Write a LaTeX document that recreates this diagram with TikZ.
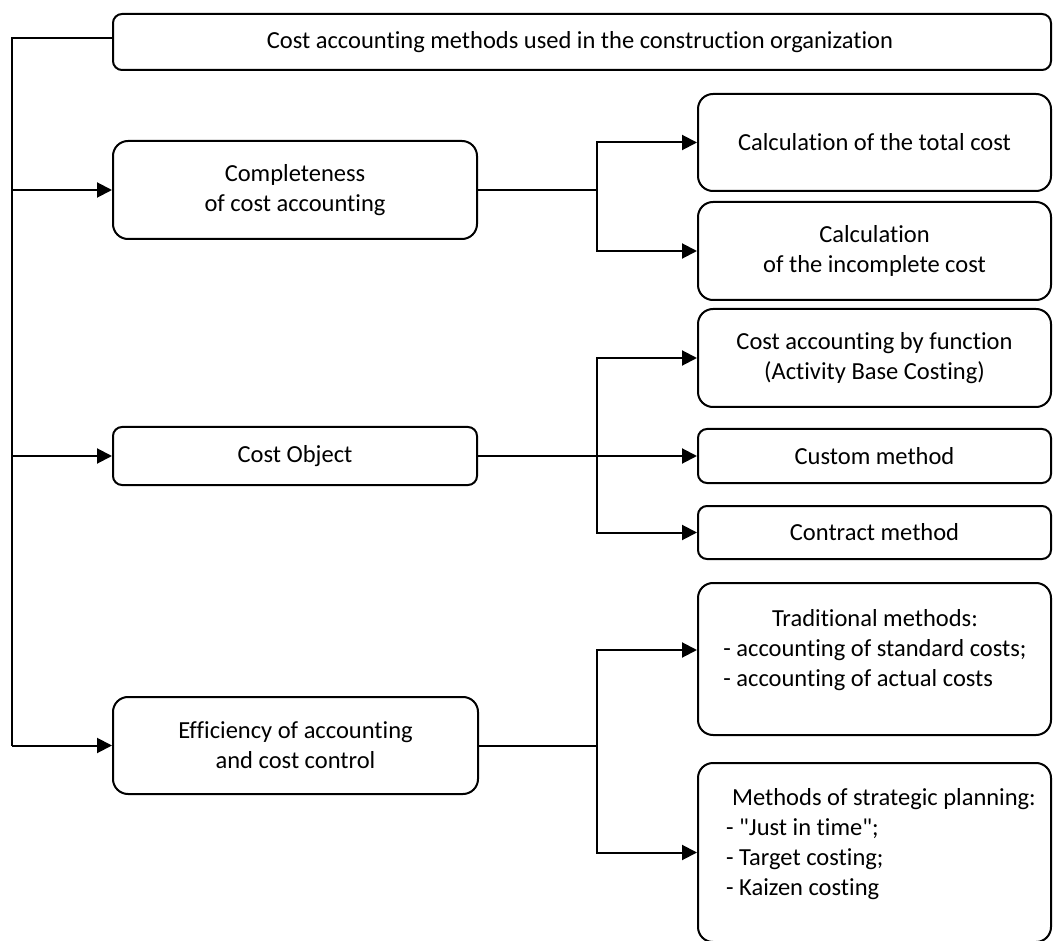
\documentclass[tikz,border=0pt]{standalone}
\usepackage{fontspec}
\setmainfont{Carlito}[Ligatures={TeXOff,NoCommon}]
\usetikzlibrary{arrows.meta}
\begin{document}
\begin{tikzpicture}[x=1pt,y=-1pt,
  every node/.style={font=\fontsize{24.5}{30}\selectfont},
  bigbox/.style={draw, line width=2pt, rounded corners=15pt, inner sep=0pt, align=center},
  smallbox/.style={draw, line width=2pt, rounded corners=9pt, inner sep=0pt, align=center},
  conn/.style={line width=2pt},
  arr/.style={line width=2pt, -{Triangle[length=15pt,width=15pt]}},
  label/.style={inner sep=0pt}]
\useasboundingbox (0,0) rectangle (1053,941);
% left column
\node[smallbox, minimum width=938pt, minimum height=56pt] (topbox) at (582,42) {};
\node[label] (toptxt) at (580,42) {Cost accounting methods used in the construction organization};
\node[bigbox, minimum width=364pt, minimum height=98pt] (comp) at (295,190) {Completeness\\of cost accounting};
\node[smallbox, minimum width=364pt, minimum height=58pt] (obj) at (295,456) {Cost Object};
\node[bigbox, minimum width=365pt, minimum height=97pt] (eff) at (295.5,745.5) {Efficiency of accounting\\and cost control};
% right column
\node[bigbox, minimum width=353pt, minimum height=97pt] (tot) at (874.5,142.5) {Calculation of the total cost};
\node[bigbox, minimum width=353pt, minimum height=98pt] (inc) at (874.5,251) {Calculation\\of the incomplete cost};
\node[bigbox, minimum width=353pt, minimum height=98pt] (abc) at (874.5,358) {Cost accounting by function\\(Activity Base Costing)};
\node[smallbox, minimum width=353pt, minimum height=54pt] (cust) at (874.5,456) {Custom method};
\node[smallbox, minimum width=353pt, minimum height=53pt] (contr) at (874.5,532.5) {Contract method};
\node[bigbox, minimum width=353pt, minimum height=152pt] (trad) at (874.5,659) {};
\node[label] (tradtxt) at (875,650) {\begin{tabular}{@{}l@{}}\multicolumn{1}{@{}c@{}}{Traditional methods:}\\- accounting of standard costs;\\- accounting of actual costs\end{tabular}};
\node[bigbox, minimum width=353pt, minimum height=179pt] (strat) at (874.5,852.5) {};
\node[label] (strattxt) at (881,844) {\begin{tabular}{@{}l@{}}\hspace{6pt}Methods of strategic planning:\\- "Just in time";\\- Target costing;\\- Kaizen costing\end{tabular}};
% trunk
\coordinate (trunktop) at (12,38);
\coordinate (bx) at (597,0);
\draw[conn] (topbox.west |- trunktop) -- (trunktop) -- (trunktop |- eff.west);
\draw[arr] (trunktop |- comp.west) -- (comp.west);
\draw[arr] (trunktop |- obj.west) -- (obj.west);
\draw[arr] (trunktop |- eff.west) -- (eff.west);
% branches
\draw[conn] (comp.east) -- (comp.east -| bx);
\draw[arr] (comp.east -| bx) |- (tot.west);
\draw[arr] (comp.east -| bx) |- (inc.west);
\draw[arr] (obj.east) -- (cust.west);
\draw[arr] (obj.east -| bx) |- (abc.west);
\draw[arr] (obj.east -| bx) |- (contr.west);
\draw[conn] (eff.east) -- (eff.east -| bx);
\draw[arr] (eff.east -| bx) |- (trad.west |- tradtxt);
\draw[arr] (eff.east -| bx) |- (strat.west);
\end{tikzpicture}
\end{document}
